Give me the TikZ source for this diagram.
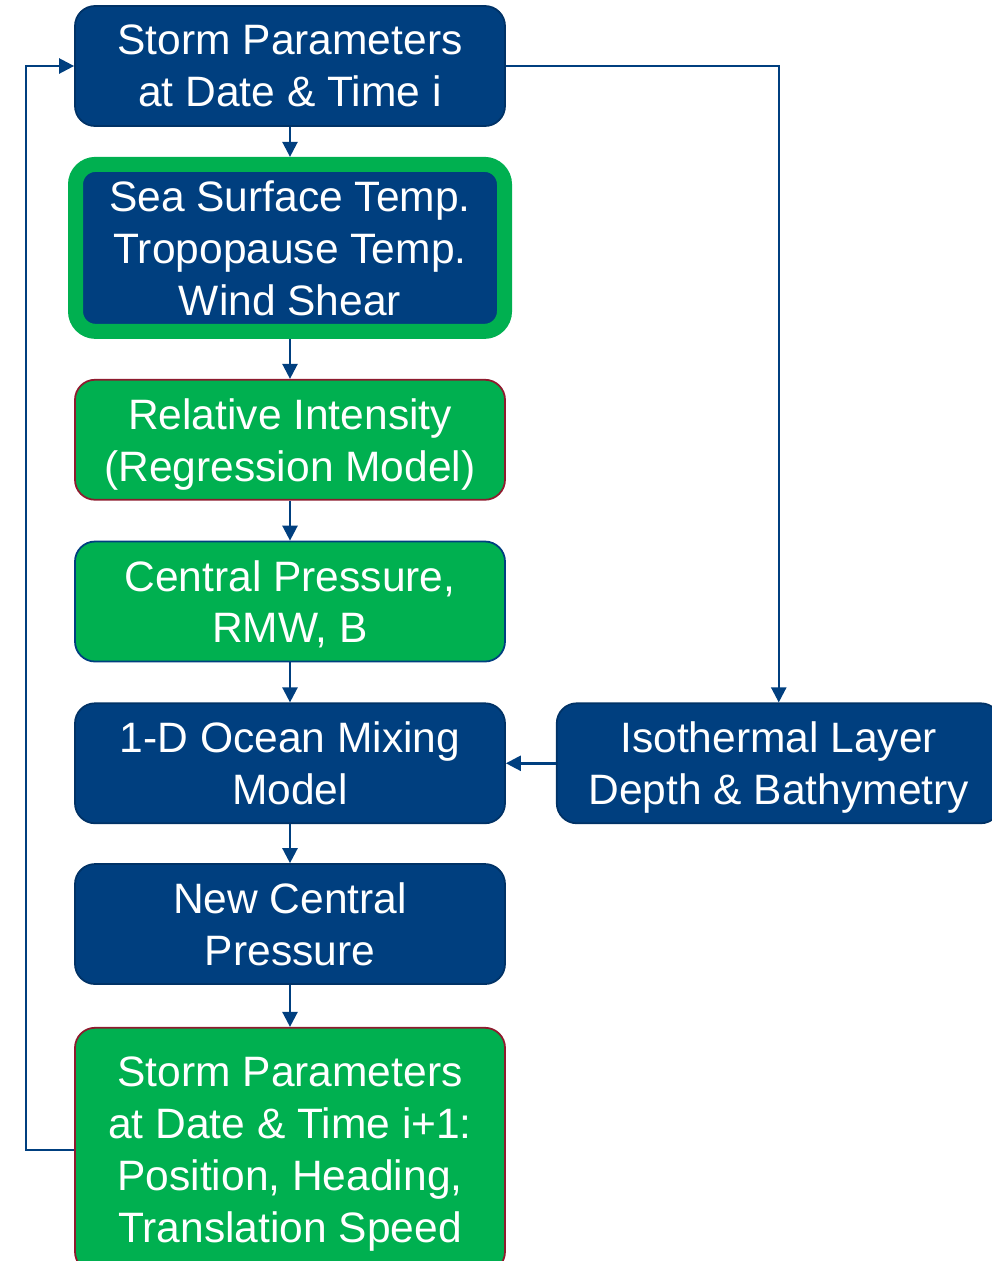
\documentclass[tikz,border=0pt]{standalone}
\usepackage{fontspec}
\setmainfont{Liberation Sans}
\usepackage{tikz}
\usetikzlibrary{arrows.meta, positioning}

\definecolor{navy}{HTML}{003F7F}
\definecolor{leaf}{HTML}{00B050}
\definecolor{wine}{HTML}{8E1B2E}

\begin{document}
\begin{tikzpicture}[
        node distance=0.8cm and 1.0cm,
        box/.style={rectangle, rounded corners=0.4cm, text=white, align=center, line width=1pt,
            minimum width=8.6cm, minimum height=2.4cm, inner sep=0pt, text depth=-2.2pt,
            font=\fontsize{24.2}{29.5}\selectfont},
        blue/.style={box, fill=navy, draw=navy!80!black},
        green/.style={box, fill=leaf, draw=wine},
        input/.style={box, fill=navy, draw=leaf, line width=0.3cm, minimum width=8.58cm, minimum height=3.34cm},
        arrow/.style={-{Triangle[width=0.3cm, length=0.3cm]}, draw=navy, line width=1.4pt}
    ]
        \useasboundingbox (0,0) rectangle (19.82,-25.22);

        % Main chain
        \node[blue] (storm) at (5.8,-1.32) {Storm Parameters\\at Date \& Time i};
        \node[input, below=0.6cm of storm] (env) {Sea Surface Temp.\\Tropopause Temp.\\Wind Shear};
        \node[green, below=of env] (relint) {Relative Intensity\\(Regression Model)};
        \node[green, draw=navy, below=of relint] (press) {Central Pressure,\\RMW, B};
        \node[blue, below=of press] (ocean) {1-D Ocean Mixing\\Model};
        \node[blue, below=0.78cm of ocean] (newpress) {New Central\\Pressure};
        \node[green, below=0.84cm of newpress, minimum height=4.88cm] (next) {Storm Parameters\\at Date \& Time i+1:\\Position, Heading,\\Translation Speed};

        % Side input
        \node[blue, right=of ocean, minimum width=8.88cm] (iso) {Isothermal Layer\\Depth \& Bathymetry};

        % Connections
        \draw[arrow] (storm) -- (env);
        \draw[arrow] (env) -- (relint);
        \draw[arrow] (relint) -- (press);
        \draw[arrow] (press) -- (ocean);
        \draw[arrow] (ocean) -- (newpress);
        \draw[arrow] (newpress) -- (next);
        \draw[arrow] (iso) -- (ocean);
        \draw[arrow] (storm.east) -| (iso.north);
        \draw[arrow] (next.west) -- ++(-0.96,0) |- (storm.west);
    \end{tikzpicture}
\end{document}
